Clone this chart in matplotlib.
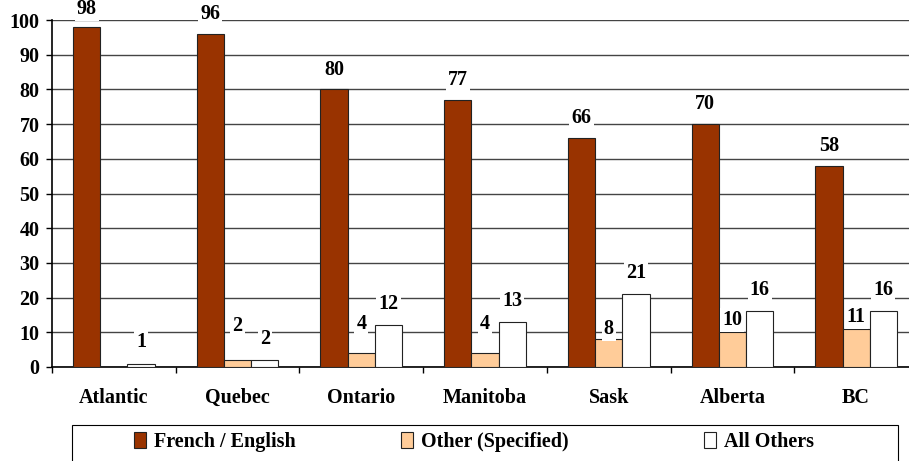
import matplotlib
matplotlib.use("Agg")
import matplotlib.pyplot as plt
from matplotlib.patches import Rectangle
import numpy as np

# Data
regions = ["Atlantic", "Quebec", "Ontario", "Manitoba", "Sask", "Alberta", "BC"]
french_english = [98, 96, 80, 77, 66, 70, 58]
other_specified = [0, 2, 4, 4, 8, 10, 11]
all_others = [1, 2, 12, 13, 21, 16, 16]
series_names = ["French / English", "Other (Specified)", "All Others"]

# Styles
colors = ["#993300", "#FFCC99", "#FFFFFF"]
bar_w = 0.22
label_offsets = [7, None, 8]        # points above bar top, per series
other_offsets = [0, 17, 14, 14, 0, 1.5, 1.5]  # Excel puts these labels oddly
legend_x = [134, 401, 704]          # pixel x of each legend entry

plt.rcParams["font.family"] = ["Liberation Serif", "DejaVu Serif"]
plt.rcParams["font.weight"] = "bold"
fs = 14.5
px_per_unit = 347 / 100

fig = plt.figure(figsize=(9.09, 4.61), dpi=100)
ax = fig.add_axes([52 / 909, 1 - 367 / 461, 866 / 909, 347 / 461])

x = np.arange(len(regions))
all_series = [french_english, other_specified, all_others]
handles = []
for i, vals in enumerate(all_series):
    pos = x + (i - 1) * bar_w
    bars = ax.bar(pos, vals, width=bar_w, color=colors[i], edgecolor="#222222",
                  linewidth=0.8, label=series_names[i], zorder=3)
    handles.append(bars)
    for j, v in enumerate(vals):
        if v == 0:
            continue
        off = label_offsets[i] if label_offsets[i] is not None else other_offsets[j]
        # keep labels inside the picture at the top (Excel pushes them down)
        off = min(off, (100.3 - v) * px_per_unit * 0.72)
        ax.annotate(str(v), (pos[j], v), xytext=(0, off), textcoords="offset points",
                    ha="center", va="bottom", fontsize=fs, fontweight="bold",
                    bbox=dict(boxstyle="square,pad=0.1", fc="white", ec="none"),
                    zorder=4, annotation_clip=False)

ax.set_xlim(-0.5, len(regions) - 0.5)
ax.set_ylim(0, 100)
ax.set_yticks(range(0, 101, 10))
ax.yaxis.grid(True, color="#444444", linewidth=1.0, zorder=0)
ax.set_axisbelow(True)

ax.set_xticks(x)
ax.set_xticklabels(regions)
ax.set_xticks(np.arange(-0.5, len(regions)), minor=True)
ax.tick_params(axis="x", which="major", length=0, pad=15, labelsize=fs)
ax.tick_params(axis="x", which="minor", length=4, direction="out", width=1)
ax.tick_params(axis="y", length=4, width=1, pad=5, labelsize=fs)

for s in ["top", "right"]:
    ax.spines[s].set_visible(False)
ax.spines["left"].set_linewidth(1.2)
ax.spines["bottom"].set_linewidth(1.2)

# legend box (runs off the bottom of the picture, like the original)
fig.patches.append(Rectangle((72 / 909, -0.05), 826 / 909, 1 - 425 / 461 + 0.05,
                             transform=fig.transFigure, fill=False,
                             edgecolor="black", linewidth=0.8))
for h, name, lx in zip(handles, series_names, legend_x):
    fig.legend([h], [name], loc="upper left", bbox_to_anchor=(lx / 909, 1 - 432 / 461),
               frameon=False, fontsize=fs, handlelength=0.6, handleheight=0.8,
               handletextpad=0.4, borderaxespad=0, borderpad=0)

plt.savefig("out.png", dpi=100)
